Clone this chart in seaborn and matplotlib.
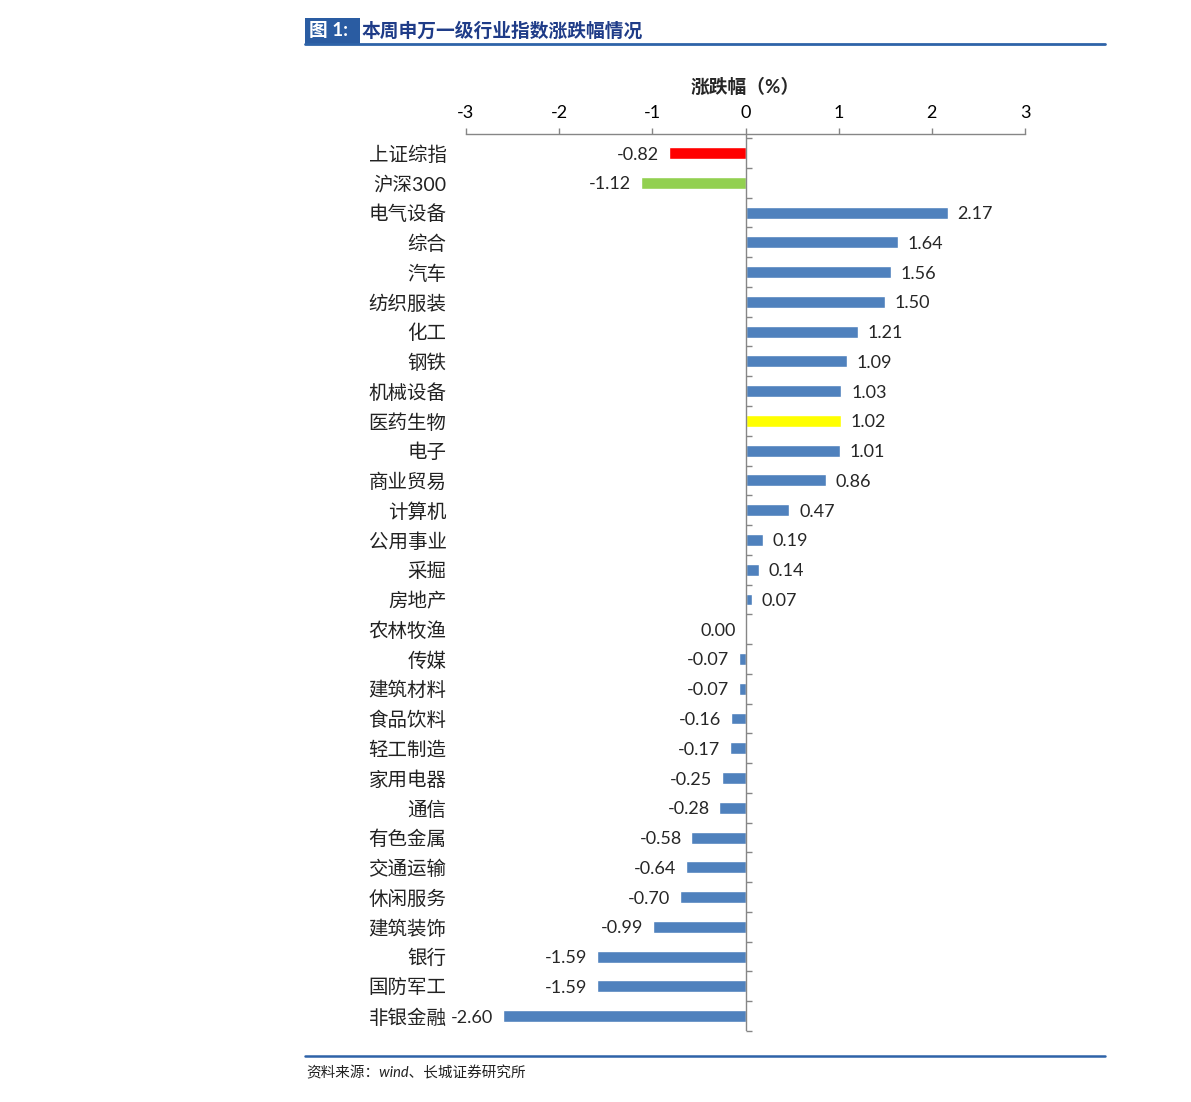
import matplotlib
matplotlib.use("Agg")
import matplotlib.pyplot as plt
from matplotlib.patches import Rectangle
from matplotlib.lines import Line2D
import pandas as pd
import seaborn as sns

# data
industries = ["上证综指", "沪深300", "电气设备", "综合", "汽车", "纺织服装", "化工", "钢铁",
              "机械设备", "医药生物", "电子", "商业贸易", "计算机", "公用事业", "采掘", "房地产",
              "农林牧渔", "传媒", "建筑材料", "食品饮料", "轻工制造", "家用电器", "通信",
              "有色金属", "交通运输", "休闲服务", "建筑装饰", "银行", "国防军工", "非银金融"]
changes = [-0.82, -1.12, 2.17, 1.64, 1.56, 1.50, 1.21, 1.09, 1.03, 1.02, 1.01, 0.86, 0.47,
           0.19, 0.14, 0.07, 0.00, -0.07, -0.07, -0.16, -0.17, -0.25, -0.28, -0.58, -0.64,
           -0.70, -0.99, -1.59, -1.59, -2.60]
highlight = {"上证综指": "#FF0000", "沪深300": "#92D050", "医药生物": "#FFFF00"}
bar_colors = [highlight.get(n, "#4F81BD") for n in industries]
x_ticks = [-3, -2, -1, 0, 1, 2, 3]

df = pd.DataFrame({"industry": industries, "change": changes})

sns.set_style("white")
plt.rcParams["font.family"] = ["Lato", "Noto Sans CJK SC", "DejaVu Sans"]

W, H = 1191, 1102
fig = plt.figure(figsize=(W / 100, H / 100), dpi=100)
ax = fig.add_axes([466 / W, 1 - 1031 / H, (1025 - 466) / W, (1031 - 134) / H])

sns.barplot(data=df, x="change", y="industry", hue="industry", palette=bar_colors,
            orient="h", width=0.4, legend=False, ax=ax, saturation=1)

ax.set_xlim(-3, 3)
ax.set_ylim(len(industries) - 0.5, -0.64)

# top axis
ax.xaxis.tick_top()
ax.xaxis.set_label_position("top")
ax.set_xticks(x_ticks)
ax.set_xticklabels([str(t) for t in x_ticks])
ax.tick_params(axis="x", direction="out", length=4, width=1, color="#868686",
               labelsize=13, pad=5, labelcolor="black")
ax.set_xlabel("涨跌幅（%）", fontsize=13.5, fontweight="bold", labelpad=9)

for s in ["left", "right", "bottom"]:
    ax.spines[s].set_visible(False)
ax.spines["top"].set_color("#868686")
ax.spines["top"].set_linewidth(1)

# category labels on the left
ax.tick_params(axis="y", length=0, pad=14, labelsize=14, labelcolor="#222222")
ax.set_ylabel("")

# zero line with ticks between categories
ax.axvline(0, color="#868686", linewidth=1, zorder=5)
sec = ax.secondary_yaxis(0.5)
sec.set_yticks([i - 0.5 for i in range(len(industries) + 1)])
sec.set_yticklabels([])
sec.tick_params(axis="y", direction="out", length=4, width=1, color="#868686")
for s in sec.spines.values():
    s.set_visible(False)

# value labels
for i, v in enumerate(changes):
    if v > 0:
        ax.annotate(f"{v:.2f}", (v, i), xytext=(7, 0), textcoords="offset points",
                    ha="left", va="center_baseline", fontsize=13)
    else:
        ax.annotate(f"{v:.2f}", (v, i), xytext=(-7, 0), textcoords="offset points",
                    ha="right", va="center_baseline", fontsize=13)

# title block
fig.add_artist(Rectangle((305 / W, 1 - 44 / H), 55 / W, 26 / H, transform=fig.transFigure,
                         facecolor="#2A5CA2", edgecolor="none"))
fig.text(309 / W, 1 - 31 / H, "图 1:", color="white", fontsize=13.5, fontweight="bold",
         va="center", ha="left")
fig.text(362 / W, 1 - 31 / H, "本周申万一级行业指数涨跌幅情况", color="#1F3C88",
         fontsize=13.5, fontweight="bold", va="center", ha="left")
fig.add_artist(Line2D([305 / W, 1105 / W], [1 - 44 / H, 1 - 44 / H],
                      transform=fig.transFigure, color="#2E63A8", linewidth=2))

# footer
fig.add_artist(Line2D([305 / W, 1105 / W], [1 - 1055.5 / H, 1 - 1055.5 / H],
                      transform=fig.transFigure, color="#2E63A8", linewidth=1.8))
fig.text(306 / W, 1 - 1073 / H, "资料来源：wind、长城证券研究所", fontsize=10.5,
         color="#222222", va="center", ha="left", style="italic")

fig.savefig("out.png", dpi=100)
